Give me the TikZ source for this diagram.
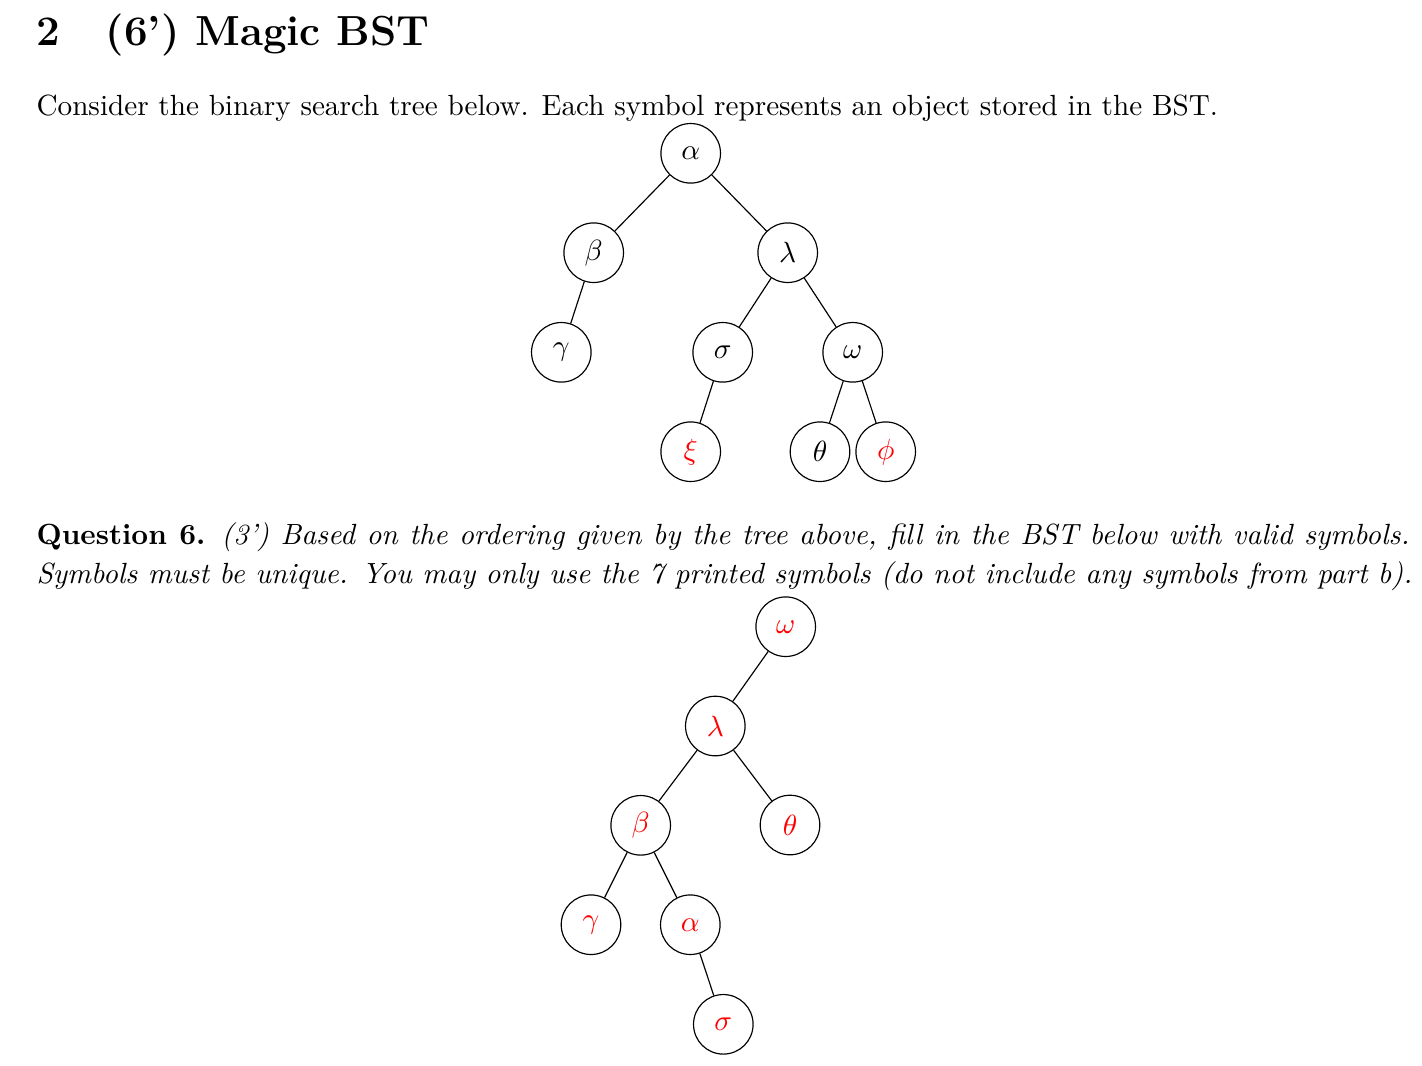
\documentclass[tikz,border=0pt]{standalone}
\begin{document}
\begin{tikzpicture}[x=0.3425pt,y=-0.3425pt,
  bst/.style={draw,circle,minimum size=20.4pt,inner sep=0pt},
  answer/.style={bst,text=red},
  textline/.style={anchor=base west,inner sep=0pt}]
\useasboundingbox (0,0) rectangle (1422,1065);
% Heading and intro
\node[textline] (title) at (36,45) {\Large\bfseries 2\quad\kern1.2pt(6') Magic BST};
\node[textline] (intro) at (36,115) {Consider the binary search tree below. Each symbol represents an object stored in the BST.};
% Given tree
\node[bst] (alpha) at (690.7,153.3) {$\alpha$};
\node[bst] (beta) at (593.7,252.7) {$\beta$};
\node[bst] (lambda) at (787.7,252.7) {$\lambda$};
\node[bst] (gamma) at (561.3,352.3) {$\gamma$};
\node[bst] (sigma) at (722.7,352.3) {$\sigma$};
\node[bst] (omega) at (852.7,352.3) {$\omega$};
\node[answer] (xi) at (690.7,451.7) {$\xi$};
\node[bst] (theta) at (820,451.7) {$\theta$};
\node[answer] (phi) at (885.7,451.7) {$\phi$};
\draw (alpha) -- (beta);
\draw (alpha) -- (lambda);
\draw (beta) -- (gamma);
\draw (lambda) -- (sigma);
\draw (lambda) -- (omega);
\draw (sigma) -- (xi);
\draw (omega) -- (theta);
\draw (omega) -- (phi);
% Question text
\node[textline] (qone) at (36,544) {\makebox[470.2pt][s]{\textbf{Question 6.} \textit{(3') Based on the ordering given by the tree above, fill in the BST below with valid symbols.}}};
\node[textline] (qtwo) at (36,583) {\textit{Symbols must be unique. You may only use the 7 printed symbols (do not include any symbols from part b).}};
% Answer tree
\node[answer] (omega2) at (785.7,626.7) {$\omega$};
\node[answer] (lambda2) at (715.3,726) {$\lambda$};
\node[answer] (beta2) at (640.7,825.3) {$\beta$};
\node[answer] (theta2) at (790,825) {$\theta$};
\node[answer] (gamma2) at (591,924.7) {$\gamma$};
\node[answer] (alpha2) at (690.3,924.7) {$\alpha$};
\node[answer] (sigma2) at (723.3,1024.3) {$\sigma$};
\draw (omega2) -- (lambda2);
\draw (lambda2) -- (beta2);
\draw (lambda2) -- (theta2);
\draw (beta2) -- (gamma2);
\draw (beta2) -- (alpha2);
\draw (alpha2) -- (sigma2);
\end{tikzpicture}
\end{document}
